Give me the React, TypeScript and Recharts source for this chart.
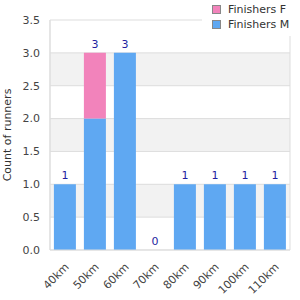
import { Bar, CartesianGrid, ComposedChart, LabelList, Legend, Line, XAxis, YAxis } from "recharts";

const distances = ["40km", "50km", "60km", "70km", "80km", "90km", "100km", "110km"];
const finishersM = [1, 2, 3, 0, 1, 1, 1, 1];
const finishersF = [0, 1, 0, 0, 0, 0, 0, 0];
const yTicks = [0, 0.5, 1, 1.5, 2, 2.5, 3, 3.5];

const FONT = "'DejaVu Sans', Verdana, sans-serif";
const COLOR_M = "#5fa8f2";
const COLOR_F = "#f283bb";

const chartData = distances.map((d, i) => ({
  distance: d,
  m: finishersM[i],
  f: finishersF[i],
  total: finishersM[i] + finishersF[i],
}));

// biome-ignore lint/suspicious/noExplicitAny: recharts tick props
function DistanceTick({ x, y, payload }: any) {
  const tx = x - 1;
  const ty = y + 4;
  return (
    <text
      x={tx}
      y={ty}
      textAnchor="end"
      fontSize={11}
      fontFamily={FONT}
      fill="#444"
      transform={`rotate(-45, ${tx}, ${ty})`}
      dy={8}
    >
      {payload.value}
    </text>
  );
}

function LegendBox() {
  const items = [
    { name: "Finishers F", color: COLOR_F },
    { name: "Finishers M", color: COLOR_M },
  ];
  return (
    <div style={{ background: "#fff", padding: "2px 6px 4px 10px", fontFamily: FONT, fontSize: 11, color: "#333" }}>
      {items.map((it) => (
        <div key={it.name} style={{ display: "flex", alignItems: "center", height: 15 }}>
          <span
            style={{
              width: 7,
              height: 7,
              background: it.color,
              border: "1px solid #888",
              marginRight: 7,
            }}
          />
          <span>{it.name}</span>
        </div>
      ))}
    </div>
  );
}

export default function App() {
  return (
    <div style={{ position: "absolute", left: 0, top: 0, width: 300, height: 300, background: "#fff" }}>
      <ComposedChart
        width={300}
        height={300}
        data={chartData}
        margin={{ top: 20, right: 10, bottom: 10, left: 0 }}
        barCategoryGap="13%"
      >
        <CartesianGrid
          stroke="#dddddd"
          horizontalFill={["#ffffff", "#f2f2f2"]}
          fillOpacity={1}
          verticalCoordinatesGenerator={({ offset }: any) => [offset.left, offset.left + offset.width]}
        />
        <XAxis
          dataKey="distance"
          height={40}
          interval={0}
          tickLine={false}
          axisLine={{ stroke: "#dddddd" }}
          tick={<DistanceTick />}
        />
        <YAxis
          width={50}
          domain={[0, 3.5]}
          ticks={yTicks}
          tickFormatter={(v: number) => v.toFixed(1)}
          tickLine={false}
          tickMargin={4}
          axisLine={{ stroke: "#dddddd" }}
          tick={{ fontSize: 11, fill: "#444", fontFamily: FONT }}
          label={{
            value: "Count of runners",
            angle: -90,
            position: "insideLeft",
            offset: 7,
            style: { textAnchor: "middle", fontSize: 11, fill: "#333", fontFamily: FONT },
          }}
        />
        <Legend
          layout="horizontal"
          verticalAlign="middle"
          align="center"
          content={<LegendBox />}
          wrapperStyle={{ top: 0, left: 202, width: 98, height: 34 }}
        />
        <Bar dataKey="m" name="Finishers M" stackId="a" fill={COLOR_M} isAnimationActive={false} />
        <Bar dataKey="f" name="Finishers F" stackId="a" fill={COLOR_F} isAnimationActive={false} />
        <Line
          dataKey="total"
          stroke="none"
          dot={false}
          activeDot={false}
          legendType="none"
          isAnimationActive={false}
        >
          <LabelList
            dataKey="total"
            position="top"
            offset={5}
            fill="#1f1f9f"
            fontSize={11}
            fontFamily={FONT}
          />
        </Line>
      </ComposedChart>
    </div>
  );
}
